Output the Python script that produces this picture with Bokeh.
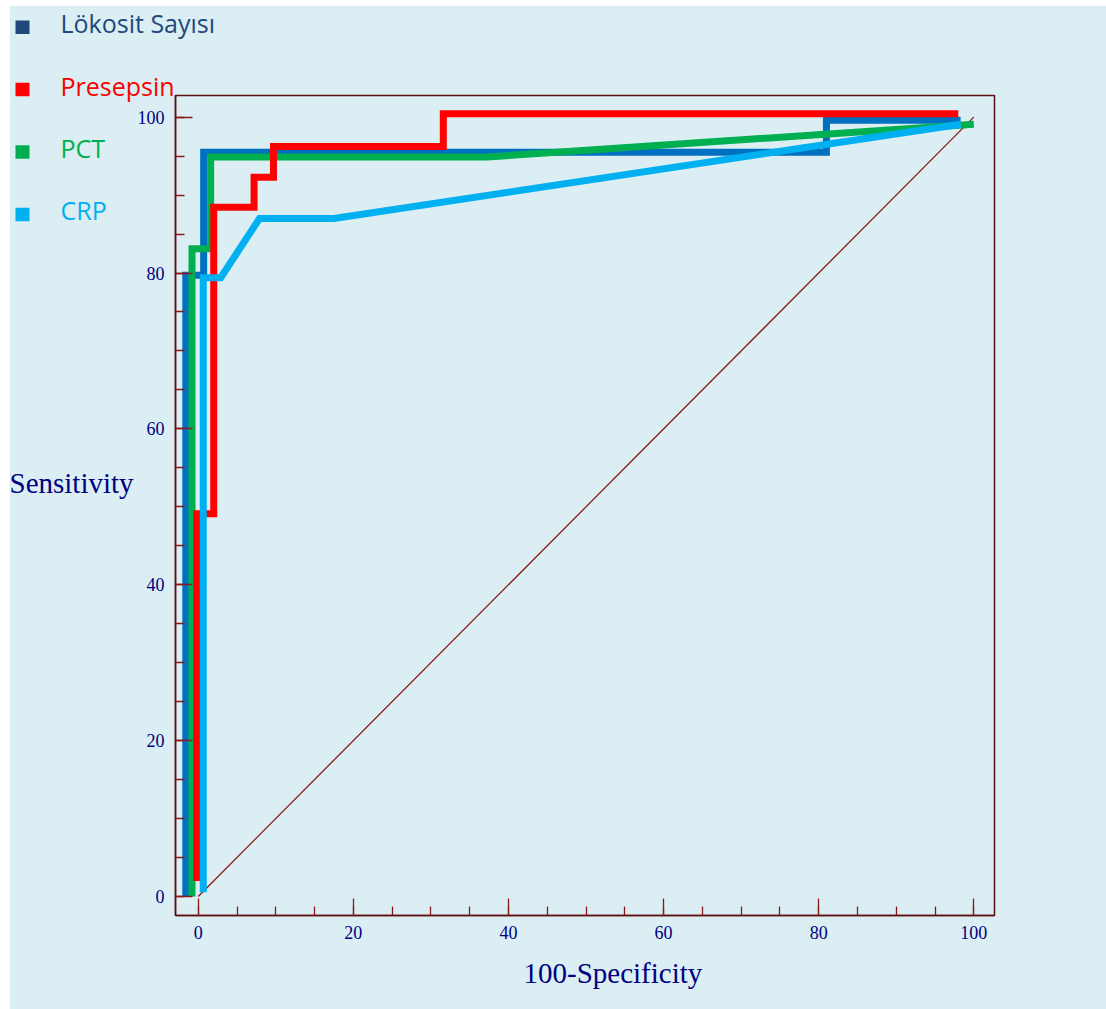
from bokeh.plotting import figure
from bokeh.models import Range1d, SingleIntervalTicker, Title
from bokeh.core.properties import value
from bokeh.embed import file_html
from bokeh.resources import INLINE

# ROC curves: 100-Specificity (x) vs Sensitivity (y), in percent
lokosit_x = [-1.6, -1.6, 0.7, 0.7, 81.0, 81.0, 98.3]
lokosit_y = [0.0, 79.7, 79.7, 95.5, 95.5, 99.6, 99.6]

pct_x = [-0.8, -0.8, 1.6, 1.6, 37.3, 100.0]
pct_y = [0.0, 83.1, 83.1, 94.9, 94.9, 99.1]

presepsin_x = [-0.2, -0.2, 2.0, 2.0, 7.2, 7.2, 9.7, 9.7, 31.6, 31.6, 98.0]
presepsin_y = [2.0, 49.1, 49.1, 88.45, 88.45, 92.3, 92.3, 96.25, 96.25, 100.45, 100.45]

crp_x = [0.65, 0.65, 2.9, 7.9, 17.5, 98.3]
crp_y = [0.55, 79.4, 79.4, 87.0, 87.0, 99.1]

reference_x = [0, 100]
reference_y = [0, 100]

series_names = ["Lökosit Sayısı", "Presepsin", "PCT", "CRP"]
series_colors = ["#1F497D", "#FF0000", "#00B050", "#00B0F0"]
line_colors = {"Lökosit Sayısı": "#0070C0", "Presepsin": "#FF0000",
               "PCT": "#00B050", "CRP": "#00B0F0"}

BG = "#DAEEF3"
NAVY = "#000080"
MAROON = "#5C1010"
TICK = "#8B1A1A"
W, H = 1097, 1004

p = figure(width=W, height=H,
           x_range=Range1d(-2.93, 102.67), y_range=Range1d(-2.44, 102.78),
           min_border_left=166, min_border_right=112,
           min_border_top=90, min_border_bottom=94,
           background_fill_color=BG, border_fill_color=BG,
           output_backend="svg", toolbar_location=None)
p.margin = (5, 0, 0, 9)
p.grid.visible = False
p.outline_line_color = MAROON
p.outline_line_width = 1.5

for ax in (p.xaxis[0], p.yaxis[0]):
    ax.ticker = SingleIntervalTicker(interval=20, num_minor_ticks=4)
    ax.axis_line_color = MAROON
    ax.axis_line_width = 1.5
    ax.major_tick_in = 17
    ax.major_tick_out = 0
    ax.minor_tick_in = 9
    ax.minor_tick_out = 0
    ax.major_tick_line_color = TICK
    ax.minor_tick_line_color = TICK
    ax.major_tick_line_width = 1.3
    ax.minor_tick_line_width = 1.3
    ax.major_label_text_font = "Liberation Serif"
    ax.major_label_text_font_size = "18px"
    ax.major_label_text_color = NAVY
p.xaxis[0].major_label_standoff = 10
p.yaxis[0].major_label_standoff = 11

# x-axis title under the tick labels
p.add_layout(Title(text="100-Specificity", align="left", offset=348, standoff=27,
                   text_font="Liberation Serif", text_font_size="29px",
                   text_font_style="normal", text_color=NAVY), "below")

# chance diagonal
p.line(reference_x, reference_y, line_color=TICK, line_width=1.3)

curves = [("Lökosit Sayısı", lokosit_x, lokosit_y),
          ("PCT", pct_x, pct_y),
          ("Presepsin", presepsin_x, presepsin_y),
          ("CRP", crp_x, crp_y)]
for name, xs, ys in curves:
    p.line(xs, ys, line_color=line_colors[name], line_width=7,
           line_join="miter", line_cap="butt")

# transparent overlay in canvas pixels (y grows downward) for the legend
# and the horizontal y-axis title, which sit outside the plot frame
ov = figure(width=W, height=H, x_range=Range1d(0, W), y_range=Range1d(H, 0),
            x_axis_type=None, y_axis_type=None, min_border=0,
            background_fill_alpha=0, border_fill_alpha=0,
            outline_line_color=None, output_backend="svg", toolbar_location=None)
ov.grid.visible = False
ov.margin = (-H, 0, 0, 9)

row_gap = 62.4
square_y = [21.7 + i * row_gap for i in range(len(series_names))]
text_y = [y - 4.0 for y in square_y]
ov.rect(x=[13] * len(series_names), y=square_y, width=14, height=13.5,
        fill_color=series_colors, line_color=None)
ov.text(x=[51] * len(series_names), y=text_y, text=series_names,
        text_color=series_colors, text_font=value("Open Sans"),
        text_font_size=value("25px"), text_baseline="alphabetic", text_align="left")

ov.text(x=[0], y=[477], text=["Sensitivity"], text_color=NAVY,
        text_font=value("Liberation Serif"), text_font_size=value("29px"),
        text_baseline="alphabetic", text_align="left")

open("out.html", "w").write(file_html([p, ov], INLINE))
